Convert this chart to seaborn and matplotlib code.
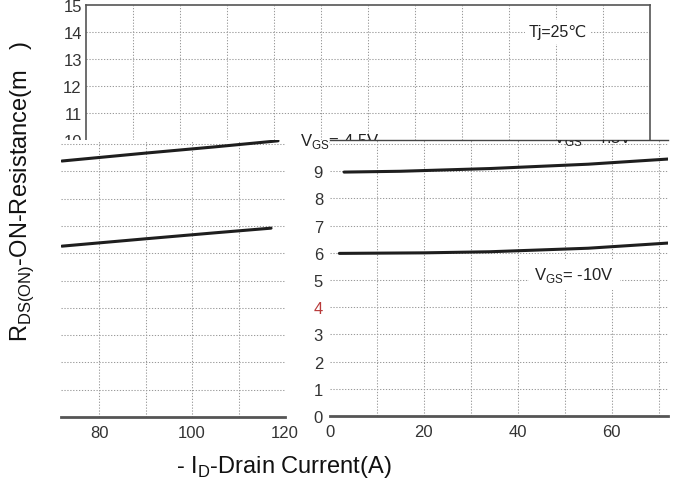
import numpy
import pandas
import seaborn
from matplotlib import pyplot

# ---- data ----
# upper strip of the original chart (0..120 A, 10..15 mOhm)
top_yticks = [10, 11, 12, 13, 14, 15]

# lower-left piece: the right end of the curves (72..120 A)
ll_current = [72, 90, 105, 118.5]
ll_vgs45 = [9.38, 9.67, 9.9, 10.12]
ll_current_10 = [72, 90, 105, 117]
ll_vgs10 = [6.26, 6.53, 6.75, 6.92]
ll_xticks = [80, 100, 120]

# lower-right piece: the start of the curves (0..72 A)
lr_current = [3, 15, 34, 55, 72]
lr_vgs45 = [8.97, 9.0, 9.1, 9.26, 9.45]
lr_current_10 = [2, 20, 34, 55, 72]
lr_vgs10 = [5.98, 6.0, 6.04, 6.17, 6.36]
lr_xticks = [0, 20, 40, 60]
lr_yticks = [0, 1, 2, 3, 4, 5, 6, 7, 8, 9]

W, H = 678, 481
GRID = dict(color='#9a9a9a', linestyle=(0, (1.2, 1.6)), linewidth=0.75)
TICK_COLOR = '#333333'
TICK_SIZE = 12
CURVE = dict(color='#1e1e1e', linewidth=2.2)

seaborn.set_style('white')
pyplot.rcParams['font.family'] = ['Liberation Sans', 'DejaVu Sans']
pyplot.rcParams['mathtext.fontset'] = 'custom'
pyplot.rcParams['mathtext.rm'] = 'Liberation Sans'


def rect(left, top, right, bottom):
    return [left / W, 1 - bottom / H, (right - left) / W, (bottom - top) / H]


def grid_lines(axes, xs, ys):
    for x in xs:
        axes.axvline(x, zorder=0, **GRID)
    for y in ys:
        axes.axhline(y, zorder=0, **GRID)


figure = pyplot.figure(figsize=(W / 100, H / 100), dpi=100)

# ---- upper strip ----
ax_top = figure.add_axes(rect(86, 6, 650, 141))
ax_top.set_xlim(0, 120)
ax_top.set_ylim(10, 15)
grid_lines(ax_top, range(10, 120, 10), range(11, 15))
ax_top.set_xticks([])
ax_top.set_yticks(top_yticks)
ax_top.tick_params(axis='y', length=0, pad=3, labelsize=TICK_SIZE,
                   labelcolor=TICK_COLOR)
for side in ['left', 'top', 'right']:
    ax_top.spines[side].set_color('#555555')
    ax_top.spines[side].set_linewidth(1.2)
ax_top.spines['bottom'].set_visible(False)
ax_top.text(100.4, 14, 'Tj=25\u2103', fontsize=11.5, ha='center',
            va='center', color='#222222',
            bbox=dict(facecolor='white', edgecolor='none', pad=3))
ax_top.text(54, 9.98, r'V$_\mathregular{GS}$=-4.5V', fontsize=12,
            ha='center', va='center', color='#222222', clip_on=False)

# ---- lower-left piece ----
ax_ll = figure.add_axes(rect(61, 141, 285, 418))
ax_ll.set_facecolor('white')
ax_ll.set_xlim(71.8, 120)
ax_ll.set_ylim(0, 10.15)
grid_lines(ax_ll, range(80, 120, 10), range(1, 11))
ll_45 = pandas.DataFrame({'current': ll_current, 'rds': ll_vgs45})
ll_10 = pandas.DataFrame({'current': ll_current_10, 'rds': ll_vgs10})
seaborn.lineplot(data=ll_45, x='current', y='rds', ax=ax_ll, **CURVE)
seaborn.lineplot(data=ll_10, x='current', y='rds', ax=ax_ll, **CURVE)
ax_ll.set_xticks(ll_xticks)
ax_ll.set_yticks([])
ax_ll.tick_params(axis='x', length=0, pad=6, labelsize=TICK_SIZE,
                  labelcolor=TICK_COLOR)
ax_ll.set_xlabel('')
ax_ll.set_ylabel('')
for side in ['left', 'top', 'right']:
    ax_ll.spines[side].set_visible(False)
ax_ll.spines['bottom'].set_color('#555555')
ax_ll.spines['bottom'].set_linewidth(2)

# ---- lower-right piece ----
ax_lr = figure.add_axes(rect(330, 141, 668, 417))
ax_lr.set_facecolor('white')
ax_lr.set_xlim(0, 72)
ax_lr.set_ylim(0, 10.15)
grid_lines(ax_lr, range(10, 80, 10), range(1, 11))
lr_45 = pandas.DataFrame({'current': lr_current, 'rds': lr_vgs45})
lr_10 = pandas.DataFrame({'current': lr_current_10, 'rds': lr_vgs10})
seaborn.lineplot(data=lr_45, x='current', y='rds', ax=ax_lr, **CURVE)
seaborn.lineplot(data=lr_10, x='current', y='rds', ax=ax_lr, **CURVE)
ax_lr.set_xticks(lr_xticks)
ax_lr.set_yticks(lr_yticks)
ax_lr.tick_params(axis='x', length=0, pad=6, labelsize=TICK_SIZE,
                  labelcolor=TICK_COLOR)
ax_lr.tick_params(axis='y', length=0, pad=5, labelsize=TICK_SIZE,
                  labelcolor=TICK_COLOR)
ax_lr.get_yticklabels()[4].set_color('#b83a3a')
ax_lr.set_xlabel('')
ax_lr.set_ylabel('')
for side in ['left', 'right']:
    ax_lr.spines[side].set_visible(False)
ax_lr.spines['top'].set_color('#444444')
ax_lr.spines['top'].set_linewidth(1)
ax_lr.spines['bottom'].set_color('#555555')
ax_lr.spines['bottom'].set_linewidth(2)
ax_lr.text(52, 5.2, r'V$_\mathregular{GS}$= -10V', fontsize=12,
           ha='center', va='center', color='#222222',
           bbox=dict(facecolor='white', edgecolor='none', pad=4))
ax_lr.text(56, 10.25, r'V$_\mathregular{GS}$=-4.5V', fontsize=12,
           ha='center', va='center', color='#222222', clip_on=True)

# ---- axis titles ----
figure.text(22 / W, 1 - 192 / H,
            r'R$_\mathregular{DS(ON)}$-ON-Resistance(m   )',
            rotation=90, ha='center', va='center', fontsize=17,
            color='#111111')
figure.text(284 / W, 1 - 467 / H, r'- I$_\mathregular{D}$-Drain Current(A)',
            ha='center', va='center', fontsize=17, color='#111111')

figure.savefig('out.png', dpi=100)
